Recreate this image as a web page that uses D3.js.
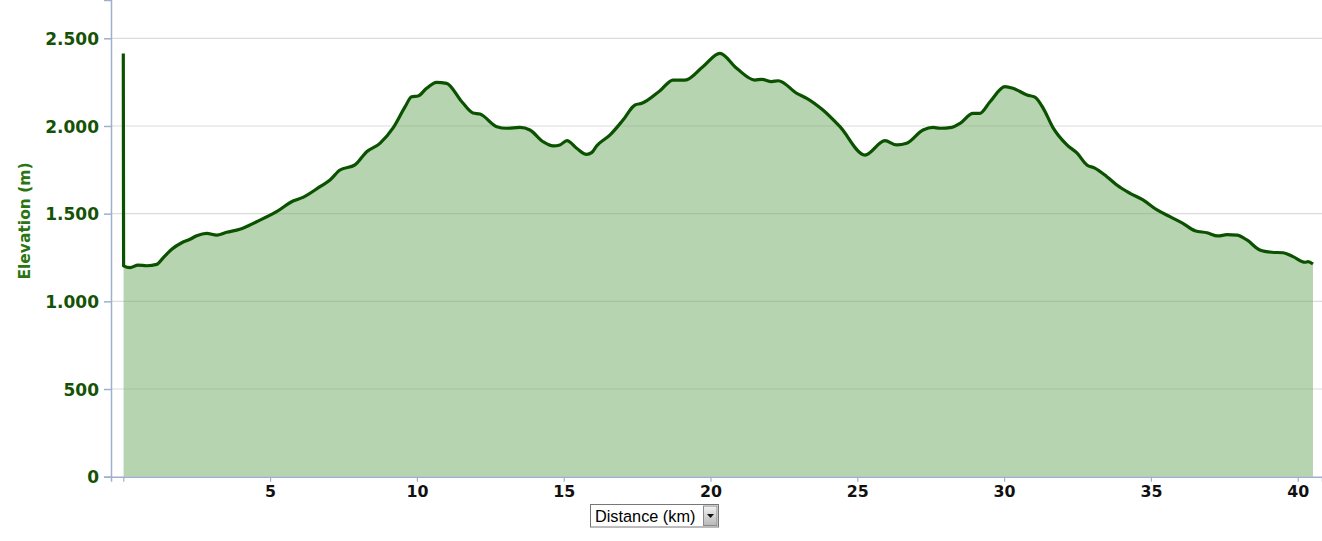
<!DOCTYPE html>
<html>
<head>
<meta charset="utf-8">
<script src="https://cdn.jsdelivr.net/npm/d3@7"></script>
<style>
  html, body { margin: 0; padding: 0; background: #fff; }
  svg { display: block; }
</style>
</head>
<body>
<svg id="chart" width="1322" height="541"></svg>
<script>
// Distance (km) along the route
const distanceKm = [0, 0.01, 0.23, 0.50, 0.80, 1.14, 1.35, 1.65, 1.99, 2.27, 2.50, 2.84, 3.18, 3.52, 3.97, 4.54, 5.22, 5.78, 6.12, 6.70, 7.04, 7.38, 7.89, 8.29, 8.74, 9.19, 9.60, 9.82, 10.04, 10.33, 10.67, 11.01, 11.53, 11.91, 12.15, 12.72, 13.06, 13.51, 13.85, 14.30, 14.64, 14.87, 15.11, 15.44, 15.78, 15.95, 16.12, 16.58, 17.02, 17.43, 17.66, 18.28, 18.72, 19.13, 19.74, 20.32, 20.89, 21.51, 21.74, 22.08, 22.31, 22.94, 23.28, 23.83, 24.41, 25.26, 25.94, 26.34, 26.68, 27.24, 27.58, 27.82, 28.22, 28.50, 28.94, 29.17, 29.52, 30.03, 30.30, 30.78, 31.05, 31.33, 31.67, 32.14, 32.48, 32.82, 33.09, 33.50, 33.84, 34.29, 34.73, 35.21, 35.65, 36.09, 36.50, 36.91, 37.28, 37.59, 37.93, 38.27, 38.71, 39.12, 39.50, 39.84, 40.25, 40.35, 40.52];
// Elevation (m)
const elevationM = [2414, 1202, 1192, 1207, 1203, 1211, 1247, 1297, 1334, 1354, 1374, 1388, 1378, 1394, 1411, 1454, 1511, 1572, 1593, 1654, 1692, 1749, 1778, 1853, 1901, 1989, 2110, 2167, 2171, 2215, 2249, 2243, 2138, 2074, 2068, 1996, 1987, 1992, 1977, 1910, 1886, 1892, 1916, 1873, 1838, 1848, 1886, 1949, 2034, 2120, 2129, 2201, 2262, 2262, 2338, 2414, 2329, 2262, 2266, 2253, 2258, 2186, 2158, 2091, 1996, 1834, 1916, 1892, 1901, 1977, 1992, 1987, 1992, 2015, 2072, 2072, 2138, 2224, 2215, 2177, 2164, 2102, 1989, 1892, 1846, 1778, 1760, 1711, 1663, 1616, 1578, 1521, 1483, 1445, 1403, 1391, 1373, 1380, 1378, 1350, 1293, 1280, 1277, 1255, 1223, 1226, 1213];

const xTicks = [0, 5, 10, 15, 20, 25, 30, 35, 40];
const xTickLabels = ["", "5", "10", "15", "20", "25", "30", "35", "40"];
const yTicks = [0, 500, 1000, 1500, 2000, 2500];
const yTickLabels = ["0", "500", "1.000", "1.500", "2.000", "2.500"];

(function () {
const data = distanceKm.map((d, i) => ({ x: d, y: elevationM[i] }));

const svg = d3.select("#chart");
const plotL = 111, plotR = 1322, plotT = 0, plotB = 476.7;

const x = d3.scaleLinear().domain([0, 40]).range([123.3, 1297.7]);
const xMin = x.invert(plotL), xMax = x.invert(plotR);
x.domain([xMin, xMax]).range([plotL, plotR]);

const y = d3.scaleLinear().domain([0, 2500]).range([plotB, 38.3]);
y.domain([0, y.invert(plotT)]).range([plotB, plotT]);

// gridlines
svg.append("g")
  .selectAll("line")
  .data(yTicks.filter(d => d > 0))
  .join("line")
  .attr("x1", plotL).attr("x2", plotR)
  .attr("y1", d => y(d)).attr("y2", d => y(d))
  .attr("stroke", "#dcdcdc").attr("stroke-width", 1.2);

// area
const area = d3.area()
  .x(d => x(d.x))
  .y0(y(0))
  .y1(d => y(d.y))
  .curve(d3.curveMonotoneX);
svg.append("path")
  .datum(data.slice(1))
  .attr("d", area)
  .attr("fill", "rgb(109,169,95)")
  .attr("fill-opacity", 0.5);

// line
const line = d3.line()
  .x(d => x(d.x))
  .y(d => y(d.y))
  .curve(d3.curveMonotoneX);
svg.append("path")
  .datum(data)
  .attr("d", line)
  .attr("fill", "none")
  .attr("stroke", "#0b5200")
  .attr("stroke-width", 3.2)
  .attr("stroke-linejoin", "round");

// y axis
const yAxis = d3.axisLeft(y)
  .tickValues(yTicks)
  .tickSize(7)
  .tickPadding(5)
  .tickFormat((d, i) => yTickLabels[i]);
const gy = svg.append("g").attr("transform", `translate(${plotL},0)`).call(yAxis);
gy.select(".domain").attr("stroke", "#9fb0cc").attr("stroke-width", 1.5);
gy.selectAll(".tick line").attr("stroke", "#9fb0cc").attr("stroke-width", 1.5);
gy.selectAll(".tick text")
  .attr("fill", "#165206")
  .attr("font-family", "DejaVu Sans, Verdana, sans-serif")
  .attr("font-weight", "bold")
  .attr("font-size", "17px")
  .attr("dy", "0.36em");

// x axis
const xAxis = d3.axisBottom(x)
  .tickValues(xTicks)
  .tickSize(5)
  .tickPadding(4)
  .tickFormat((d, i) => xTickLabels[i]);
const gx = svg.append("g").attr("transform", `translate(0,${plotB})`).call(xAxis);
gx.select(".domain").attr("stroke", "#9fb0cc").attr("stroke-width", 1.5);
gx.selectAll(".tick line").attr("stroke", "#9fb0cc").attr("stroke-width", 1.2);
gx.selectAll(".tick text")
  .attr("fill", "#111")
  .attr("font-family", "DejaVu Sans, Verdana, sans-serif")
  .attr("font-weight", "bold")
  .attr("font-size", "15.8px");

// y title
svg.append("text")
  .attr("transform", "translate(30,221) rotate(-90)")
  .attr("text-anchor", "middle")
  .attr("fill", "#2a7512")
  .attr("font-family", "DejaVu Sans, Verdana, sans-serif")
  .attr("font-weight", "bold")
  .attr("font-size", "15.5px")
  .text("Elevation (m)");

// x selector box
const sel = svg.append("g");
sel.append("rect")
  .attr("x", 590.5).attr("y", 504.5).attr("width", 128).attr("height", 22.5)
  .attr("fill", "#fff").attr("stroke", "#777").attr("stroke-width", 1);
sel.append("text")
  .attr("x", 595).attr("y", 521.5)
  .attr("fill", "#000")
  .attr("font-family", "Liberation Sans, Arial, sans-serif")
  .attr("font-size", "16.3px")
  .text("Distance (km)");
const grad = svg.append("defs").append("linearGradient")
  .attr("id", "btn").attr("x1", 0).attr("x2", 0).attr("y1", 0).attr("y2", 1);
grad.append("stop").attr("offset", "0%").attr("stop-color", "#f2f2f2");
grad.append("stop").attr("offset", "100%").attr("stop-color", "#b8b8b8");
sel.append("rect")
  .attr("x", 703.5).attr("y", 506).attr("width", 13.5).attr("height", 19.5)
  .attr("fill", "url(#btn)").attr("stroke", "#8a8a8a").attr("stroke-width", 1);
sel.append("path")
  .attr("d", "M707,514 L714,514 L710.5,518 Z")
  .attr("fill", "#111");
})();
</script>
</body>
</html>
